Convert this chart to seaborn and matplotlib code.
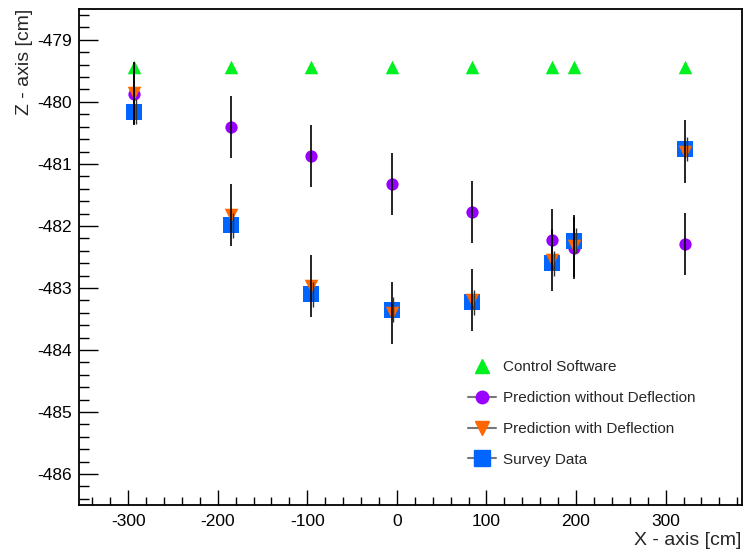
import numpy as np
import pandas as pd
import seaborn as sns
import matplotlib.pyplot as plt
from matplotlib.lines import Line2D
from matplotlib.ticker import MultipleLocator

# positions along the beam [cm]
x_pos = [-293, -185, -96, -6, 84, 173, 198, 322]

# Z values [cm]
control_z = [-479.44, -479.44, -479.44, -479.44, -479.44, -479.44, -479.44, -479.44]
no_defl_z = [-479.87, -480.41, -480.87, -481.32, -481.77, -482.23, -482.35, -482.29]
defl_z = [-479.85, -481.82, -482.97, -483.40, -483.19, -482.55, -482.33, -480.80]
survey_z = [-480.16, -481.99, -483.10, -483.35, -483.23, -482.60, -482.24, -480.76]

pred_err = [0.5, 0.5, 0.5, 0.5, 0.5, 0.5, 0.5, 0.5]
survey_err = [0.2, 0.2, 0.2, 0.2, 0.2, 0.2, 0.2, 0.2]

labels = ["Control Software", "Prediction without Deflection",
          "Prediction with Deflection", "Survey Data"]
colors = ["#00f020", "#9900ff", "#ff6600", "#0066ff"]


def main():
    sns.set_style("white")
    plt.rcParams['font.family'] = ['Liberation Sans', 'DejaVu Sans']
    plt.rcParams['axes.unicode_minus'] = False

    df = pd.DataFrame({
        'x': x_pos * 4,
        'z': control_z + no_defl_z + defl_z + survey_z,
        'series': np.repeat(labels, len(x_pos)),
    })

    fig = plt.figure(figsize=(7.44, 5.52), dpi=100)
    ax = fig.add_axes([0.106, 0.085, 0.891, 0.899])

    # purple below, then squares, then orange triangles
    draw = [(1, 'o', 78, 2), (3, 's', 125, 3), (2, 'v', 95, 4), (0, '^', 95, 4)]
    for i, m, s, z in draw:
        sub = df[df['series'] == labels[i]]
        sns.scatterplot(data=sub, x='x', y='z', marker=m, s=s, color=colors[i],
                        edgecolor=colors[i], linewidth=0, ax=ax, legend=False,
                        zorder=z)

    ax.errorbar(x_pos, no_defl_z, yerr=pred_err, fmt='none', ecolor='black',
                elinewidth=1.2, capsize=0, zorder=6)
    ax.errorbar(x_pos, defl_z, yerr=pred_err, fmt='none', ecolor='black',
                elinewidth=1.2, capsize=0, zorder=6)
    ax.errorbar([v + 2 for v in x_pos], survey_z, yerr=survey_err, fmt='none',
                ecolor='#333333', elinewidth=1.0, capsize=0, zorder=6)

    ax.set_xlim(-355, 385)
    ax.set_ylim(-486.5, -478.5)
    ax.xaxis.set_major_locator(MultipleLocator(100))
    ax.xaxis.set_minor_locator(MultipleLocator(20))
    ax.yaxis.set_major_locator(MultipleLocator(1))
    ax.yaxis.set_minor_locator(MultipleLocator(0.2))
    ax.tick_params(axis='both', which='both', direction='in', bottom=True,
                   left=True, top=False, right=False, colors='black',
                   labelsize=12.5)
    ax.tick_params(axis='x', which='major', length=11, width=1, pad=6.5)
    ax.tick_params(axis='x', which='minor', length=6, width=1)
    ax.tick_params(axis='y', which='major', length=13.5, width=1, pad=5)
    ax.tick_params(axis='y', which='minor', length=7, width=1)
    for sp in ax.spines.values():
        sp.set_color('black')
        sp.set_linewidth(1.3)

    ax.set_xlabel("X - axis [cm]", loc='right', fontsize=14, labelpad=2)
    ax.set_ylabel("Z - axis [cm]", loc='top', fontsize=14, labelpad=3)

    handles = [
        Line2D([0], [0], ls='none', marker='^', color=colors[0], markersize=10),
        Line2D([0], [0], color='#777777', lw=1.5, marker='o',
               markerfacecolor=colors[1], markeredgecolor=colors[1], markersize=9),
        Line2D([0], [0], color='#777777', lw=1.5, marker='v',
               markerfacecolor=colors[2], markeredgecolor=colors[2], markersize=10),
        Line2D([0], [0], color='#777777', lw=1.5, marker='s',
               markerfacecolor=colors[3], markeredgecolor=colors[3], markersize=11),
    ]
    fig.legend(handles, labels, loc='upper left', bbox_to_anchor=(0.611, 0.372),
               frameon=False, fontsize=11, handlelength=1.8, handletextpad=0.45,
               labelspacing=1.1)

    fig.savefig("out.png", dpi=100)


if __name__ == "__main__":
    main()
